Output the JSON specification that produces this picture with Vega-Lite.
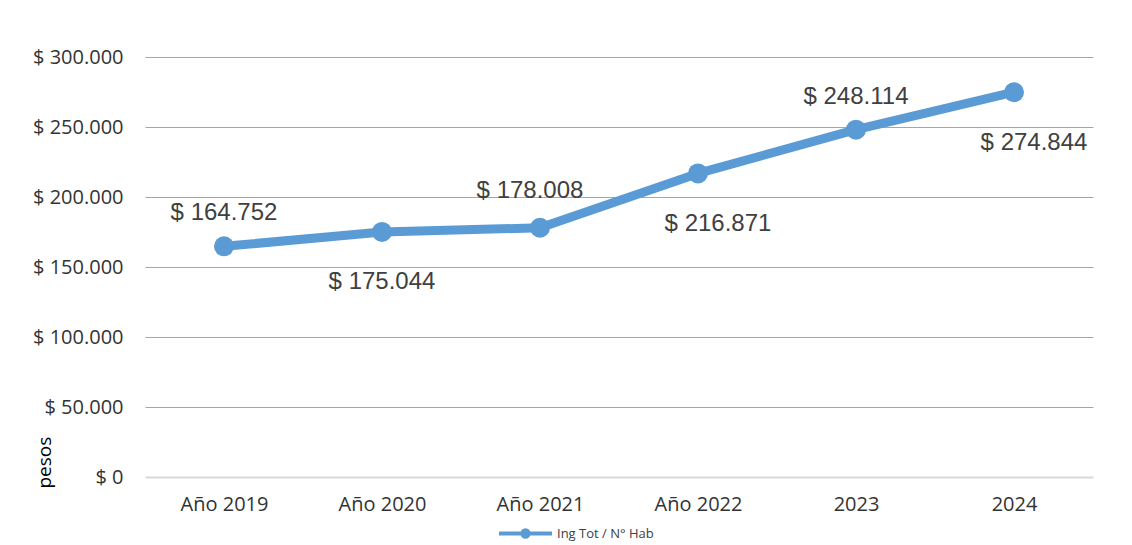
{
  "$schema": "https://vega.github.io/schema/vega-lite/v6.json",
  "width": 948,
  "height": 420,
  "autosize": {"type": "none"},
  "padding": {"left": 145, "top": 57, "right": 39, "bottom": 68},
  "background": "#ffffff",
  "config": {
    "view": {"stroke": null},
    "locale": {
      "number": {"decimal": ",", "thousands": ".", "grouping": [3], "currency": ["$ ", ""]}
    },
    "font": "Open Sans"
  },
  "data": {
    "values": [
      {"anio": "Año 2019", "valor": 164752, "serie": "Ing Tot / N° Hab"},
      {"anio": "Año 2020", "valor": 175044, "serie": "Ing Tot / N° Hab"},
      {"anio": "Año 2021", "valor": 178008, "serie": "Ing Tot / N° Hab"},
      {"anio": "Año 2022", "valor": 216871, "serie": "Ing Tot / N° Hab"},
      {"anio": "2023", "valor": 248114, "serie": "Ing Tot / N° Hab"},
      {"anio": "2024", "valor": 274844, "serie": "Ing Tot / N° Hab"}
    ]
  },
  "encoding": {
    "x": {
      "field": "anio",
      "type": "ordinal",
      "sort": null,
      "scale": {"type": "point", "padding": 0.5},
      "axis": {
        "title": null,
        "labelAngle": 0,
        "ticks": false,
        "domain": false,
        "labelFont": "Open Sans",
        "labelFontSize": 20,
        "labelColor": "#333333",
        "labelPadding": 17
      }
    },
    "y": {
      "field": "valor",
      "type": "quantitative",
      "scale": {"domain": [0, 300000], "nice": false, "zero": true},
      "axis": {
        "values": [0, 50000, 100000, 150000, 200000, 250000, 300000],
        "format": "$,.0f",
        "ticks": false,
        "domain": false,
        "labelFont": "Open Sans",
        "labelFontSize": 20,
        "labelColor": "#333333",
        "labelPadding": 22,
        "gridColor": {"condition": {"test": "datum.value === 0", "value": "#D9D9D9"}, "value": "#A6A6A6"},
        "gridWidth": {"condition": {"test": "datum.value === 0", "value": 2}, "value": 1},
        "title": "pesos",
        "titleFont": "Open Sans",
        "titleFontSize": 19,
        "titleFontWeight": "normal",
        "titleColor": "#000000",
        "titleAngle": -90,
        "titleAlign": "left",
        "titleBaseline": "bottom",
        "titleX": -91,
        "titleY": 431
      }
    }
  },
  "layer": [
    {
      "mark": {"type": "line", "strokeWidth": 9, "strokeCap": "round", "strokeJoin": "round"},
      "encoding": {
        "color": {
          "field": "serie",
          "type": "nominal",
          "scale": {"range": ["#5B9BD5"]},
          "legend": {
            "title": null,
            "orient": "none",
            "legendX": 352,
            "legendY": 448,
            "padding": 0,
            "symbolType": "M-1,0L1,0M0.12,0A0.12,0.12,0,1,1,-0.12,0A0.12,0.12,0,1,1,0.12,0Z",
            "symbolSize": 2809,
            "symbolStrokeWidth": 4,
            "symbolFillColor": "#5B9BD5",
            "symbolStrokeColor": "#5B9BD5",
            "labelFont": "Open Sans",
            "labelFontSize": 13,
            "labelColor": "#404040",
            "labelOffset": 3,
            "encode": {
              "symbols": {
                "update": {
                  "fill": {"value": "#5B9BD5"},
                  "stroke": {"value": "#5B9BD5"},
                  "strokeWidth": {"value": 4},
                  "opacity": {"value": 1}
                }
              }
            }
          }
        }
      }
    },
    {
      "mark": {"type": "point", "filled": true, "opacity": 1, "size": 400, "color": "#5B9BD5"}
    },
    {
      "transform": [{"filter": "datum.anio === 'Año 2019' || datum.anio === '2023'"}],
      "mark": {"type": "text", "font": "Liberation Sans", "fontSize": 24, "color": "#404040", "baseline": "middle", "dy": -33},
      "encoding": {"text": {"field": "valor", "type": "quantitative", "format": "$,.0f"}}
    },
    {
      "transform": [{"filter": "datum.anio === 'Año 2021'"}],
      "mark": {"type": "text", "font": "Liberation Sans", "fontSize": 24, "color": "#404040", "baseline": "middle", "dx": -10, "dy": -37},
      "encoding": {"text": {"field": "valor", "type": "quantitative", "format": "$,.0f"}}
    },
    {
      "transform": [{"filter": "datum.anio === 'Año 2020'"}],
      "mark": {"type": "text", "font": "Liberation Sans", "fontSize": 24, "color": "#404040", "baseline": "middle", "dy": 50},
      "encoding": {"text": {"field": "valor", "type": "quantitative", "format": "$,.0f"}}
    },
    {
      "transform": [{"filter": "datum.anio === 'Año 2022' || datum.anio === '2024'"}],
      "mark": {"type": "text", "font": "Liberation Sans", "fontSize": 24, "color": "#404040", "baseline": "middle", "dx": 20, "dy": 51},
      "encoding": {"text": {"field": "valor", "type": "quantitative", "format": "$,.0f"}}
    }
  ]
}
